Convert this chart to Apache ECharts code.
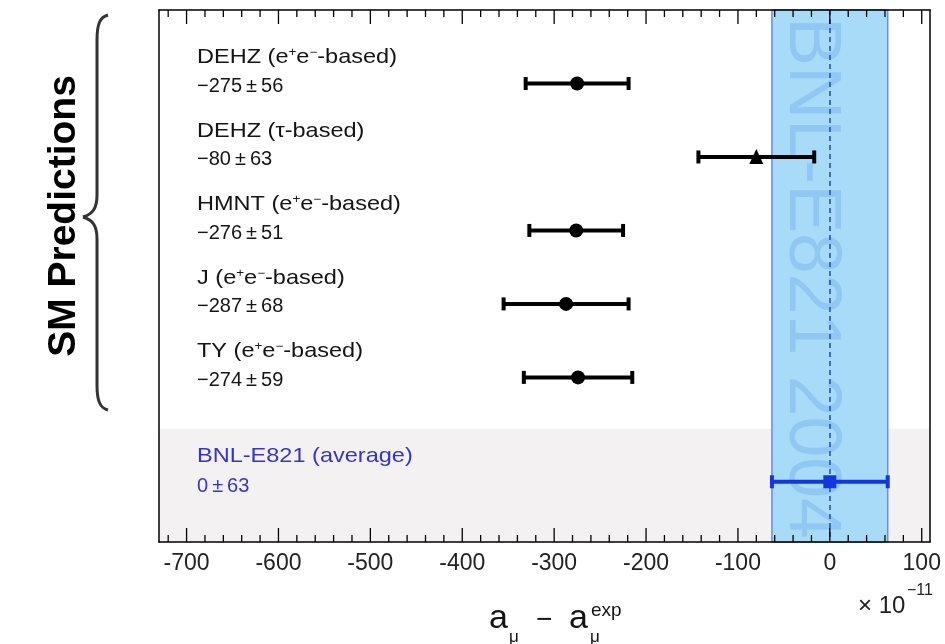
<!DOCTYPE html>
<html>
<head>
<meta charset="utf-8">
<script src="https://cdn.jsdelivr.net/npm/echarts@6/dist/echarts.min.js"></script>
<style>
  html, body { margin: 0; padding: 0; background: #fff; }
  #chart { width: 945px; height: 644px; }
</style>
</head>
<body>
<div id="chart"></div>
<script>
// ---------------------------------------------------
// Datos: predicciones del SM vs. BNL-E821
// ---------------------------------------------------
const rowNames = [
  'DEHZ (e{sup|+}e{sup|\u2212}-based)',
  'DEHZ (\u03c4-based)',
  'HMNT (e{sup|+}e{sup|\u2212}-based)',
  'J (e{sup|+}e{sup|\u2212}-based)',
  'TY (e{sup|+}e{sup|\u2212}-based)',
  'BNL-E821 (average)'
];
const rowValueText = ['\u2212275\u2009\u00b1\u200956', '\u221280\u2009\u00b1\u200963', '\u2212276\u2009\u00b1\u200951',
  '\u2212287\u2009\u00b1\u200968', '\u2212274\u2009\u00b1\u200959', '0\u2009\u00b1\u200963'];
const centers = [-275, -80, -276, -287, -274, 0];
const errors = [56, 63, 51, 68, 59, 63];
const rowPos = [1, 2, 3, 4, 5, 6.42];
const markers = ['circle', 'triangle', 'circle', 'circle', 'circle', 'square'];
const rowColors = ['#000', '#000', '#000', '#000', '#000', '#1436dc'];
const labelColors = ['#141414', '#141414', '#141414', '#141414', '#141414', '#3535c6'];

const majorTicks = [-700, -600, -500, -400, -300, -200, -100, 0, 100];
const minorTicks = [-720, -680, -660, -640, -620, -580, -560, -540, -520, -480, -460, -440, -420,
  -380, -360, -340, -320, -280, -260, -240, -220, -180, -160, -140, -120, -80, -60, -40, -20,
  20, 40, 60, 80];

const xMin = -730, xMax = 109;
const yMin = 0, yMax = 7.24;
const expBand = [-63, 63];
const avgRegionStart = 5.7;

const FONT = '"Liberation Sans", Arial, Helvetica, sans-serif';

const chart = echarts.init(document.getElementById('chart'));

const baseX = {
  type: 'value', min: xMin, max: xMax, z: 10,
  splitLine: { show: false },
  axisLine: { show: true, onZero: false, lineStyle: { color: '#000', width: 1.5 } },
  axisTick: { show: false },
  axisLabel: { show: false },
  minorTick: { show: false }
};

const baseY = {
  type: 'value', min: yMin, max: yMax, inverse: true, z: 10,
  splitLine: { show: false }, axisTick: { show: false }, axisLabel: { show: false },
  axisLine: { show: true, onZero: false, lineStyle: { color: '#000', width: 1.5 } }
};

const barData = centers.map((c, i) => [c, rowPos[i], errors[i]]);

// marcas del eje x (arriba y abajo, hacia dentro), via escala del eje
const tickSeries = (values, len) => ({
  type: 'custom', z: 8, silent: true,
  data: values.map(v => [v]),
  renderItem: (params, api) => {
    const top = api.coord([api.value(0), yMin]);
    const bot = api.coord([api.value(0), yMax]);
    const st = { stroke: '#000', lineWidth: 1.3 };
    return {
      type: 'group', children: [
        { type: 'line', shape: { x1: top[0], y1: top[1], x2: top[0], y2: top[1] + len }, style: st },
        { type: 'line', shape: { x1: bot[0], y1: bot[1], x2: bot[0], y2: bot[1] - len }, style: st }
      ]
    };
  }
});

// llave "{" a la izquierda
const braceStyle = { stroke: '#333', lineWidth: 3, fill: null };
const braceParts = [
  { type: 'bezierCurve', shape: { x1: 108, y1: 15, cpx1: 100, cpy1: 17, cpx2: 97, cpy2: 24, x2: 97, y2: 40 } },
  { type: 'line', shape: { x1: 97, y1: 40, x2: 97, y2: 195 } },
  { type: 'bezierCurve', shape: { x1: 97, y1: 195, cpx1: 97, cpy1: 208, cpx2: 93, cpy2: 214, x2: 83, y2: 217 } },
  { type: 'bezierCurve', shape: { x1: 83, y1: 217, cpx1: 93, cpy1: 220, cpx2: 97, cpy2: 226, x2: 97, y2: 239 } },
  { type: 'line', shape: { x1: 97, y1: 239, x2: 97, y2: 385 } },
  { type: 'bezierCurve', shape: { x1: 97, y1: 385, cpx1: 97, cpy1: 401, cpx2: 100, cpy2: 408, x2: 108, y2: 410 } }
].map(p => Object.assign(p, { style: braceStyle }));

const option = {
  animation: false,
  backgroundColor: '#fff',
  grid: { left: 159, right: 15, top: 10, bottom: 102 },
  xAxis: [
    Object.assign({}, baseX, {
      position: 'bottom',
      axisLabel: {
        show: true, customValues: majorTicks, margin: 10,
        fontFamily: FONT, fontSize: 23, color: '#222',
        formatter: v => String(v)
      }
    }),
    Object.assign({}, baseX, { position: 'top' })
  ],
  yAxis: [Object.assign({}, baseY, { position: 'left' }), Object.assign({}, baseY, { position: 'right' })],
  series: [
    {
      // fondos: zona del promedio + banda experimental
      type: 'line', data: [], z: 1, silent: true,
      markArea: {
        silent: true,
        data: [
          [{ yAxis: avgRegionStart, xAxis: xMin, itemStyle: { color: '#f4f1f3' } }, { yAxis: yMax, xAxis: xMax }],
          [{ xAxis: expBand[0], yAxis: yMin, itemStyle: { color: '#a8dbf8', borderColor: '#6a8cee', borderWidth: 1.5 } }, { xAxis: expBand[1], yAxis: yMax }]
        ]
      }
    },
    {
      // marca de agua BNL-E821 2004
      type: 'custom', z: 2, silent: true,
      data: [[0]],
      renderItem: (params, api) => {
        const cs = params.coordSys;
        const p = api.coord([api.value(0), yMin]);
        return {
          type: 'text', x: p[0] - 19, y: cs.y + cs.height / 2 + 2, rotation: -Math.PI / 2, scaleX: 1.11, scaleY: 1.12,
          style: {
            text: 'BNL-E821 2004', fill: '#90c8f3', font: '66px ' + FONT,
            align: 'center', verticalAlign: 'middle'
          }
        };
      }
    },
    {
      // linea punteada en 0
      type: 'line', data: [], z: 3, silent: true,
      markLine: {
        silent: true, symbol: 'none', label: { show: false },
        lineStyle: { color: '#2747b5', width: 1.5, type: [5, 4] },
        data: [{ xAxis: 0 }]
      }
    },
    {
      // barras de error + etiquetas
      type: 'custom', z: 5, silent: true,
      data: barData,
      renderItem: (params, api) => {
        const i = params.dataIndex;
        const cs = params.coordSys;
        const c = api.value(0), y = api.value(1), e = api.value(2);
        const p0 = api.coord([c - e, y]);
        const p1 = api.coord([c + e, y]);
        const pc = api.coord([c, y]);
        const col = rowColors[i];
        const cap = 6.5;
        const children = [
          { type: 'line', shape: { x1: p0[0], y1: p0[1], x2: p1[0], y2: p1[1] }, style: { stroke: col, lineWidth: 4 } },
          { type: 'line', shape: { x1: p0[0], y1: p0[1] - cap, x2: p0[0], y2: p0[1] + cap }, style: { stroke: col, lineWidth: 4 } },
          { type: 'line', shape: { x1: p1[0], y1: p1[1] - cap, x2: p1[0], y2: p1[1] + cap }, style: { stroke: col, lineWidth: 4 } }
        ];
        if (markers[i] === 'circle') {
          children.push({ type: 'circle', shape: { cx: pc[0], cy: pc[1], r: 7 }, style: { fill: col } });
        } else if (markers[i] === 'triangle') {
          children.push({ type: 'polygon', shape: { points: [[pc[0], pc[1] - 8], [pc[0] - 7, pc[1] + 7], [pc[0] + 7, pc[1] + 7]] }, style: { fill: col } });
        } else {
          children.push({ type: 'rect', shape: { x: pc[0] - 6.5, y: pc[1] - 6.5, width: 13, height: 13 }, style: { fill: col } });
        }
        const tx = cs.x + 38;
        children.push({
          type: 'text', x: tx, y: pc[1] - 26, scaleX: 1.12,
          style: {
            text: rowNames[i], fill: labelColors[i], font: '21px ' + FONT,
            verticalAlign: 'middle',
            rich: { sup: { fontSize: 12, fontFamily: FONT, fill: labelColors[i], verticalAlign: 'top', padding: [0, 0, 8, 0] } }
          }
        });
        children.push({
          type: 'text', x: tx, y: pc[1] + (i === 5 ? 5 : 3),
          style: { text: rowValueText[i], fill: labelColors[i], font: '20px ' + FONT, verticalAlign: 'middle' }
        });
        return { type: 'group', children };
      }
    },
    tickSeries(majorTicks, 14),
    tickSeries(minorTicks, 7)
  ],
  graphic: [
    {
      type: 'text', x: 64, y: 216, rotation: Math.PI / 2,
      style: { text: 'SM Predictions', font: 'bold 39px ' + FONT, fill: '#000', align: 'center', verticalAlign: 'middle' }
    },
    ...braceParts,
    // titulo del eje x
    { type: 'text', x: 489, y: 619, style: { text: 'a', font: '34px ' + FONT, fill: '#141414', align: 'left', verticalAlign: 'middle' } },
    { type: 'text', x: 509, y: 637, style: { text: '\u03bc', font: '17px ' + FONT, fill: '#141414', align: 'left', verticalAlign: 'middle' } },
    { type: 'text', x: 536, y: 620, style: { text: '\u2212', font: '28px ' + FONT, fill: '#141414', align: 'left', verticalAlign: 'middle' } },
    { type: 'text', x: 569, y: 619, style: { text: 'a', font: '34px ' + FONT, fill: '#141414', align: 'left', verticalAlign: 'middle' } },
    { type: 'text', x: 590, y: 637, style: { text: '\u03bc', font: '17px ' + FONT, fill: '#141414', align: 'left', verticalAlign: 'middle' } },
    { type: 'text', x: 591, y: 611, style: { text: 'exp', font: '19px ' + FONT, fill: '#141414', align: 'left', verticalAlign: 'middle' } },
    // multiplicador
    { type: 'text', x: 858, y: 606, style: { text: '\u00d7 10', font: '24px ' + FONT, fill: '#222', align: 'left', verticalAlign: 'middle' } },
    { type: 'text', x: 907, y: 591, style: { text: '\u221211', font: '16px ' + FONT, fill: '#222', align: 'left', verticalAlign: 'middle' } }
  ]
};

chart.setOption(option);
</script>
</body>
</html>
